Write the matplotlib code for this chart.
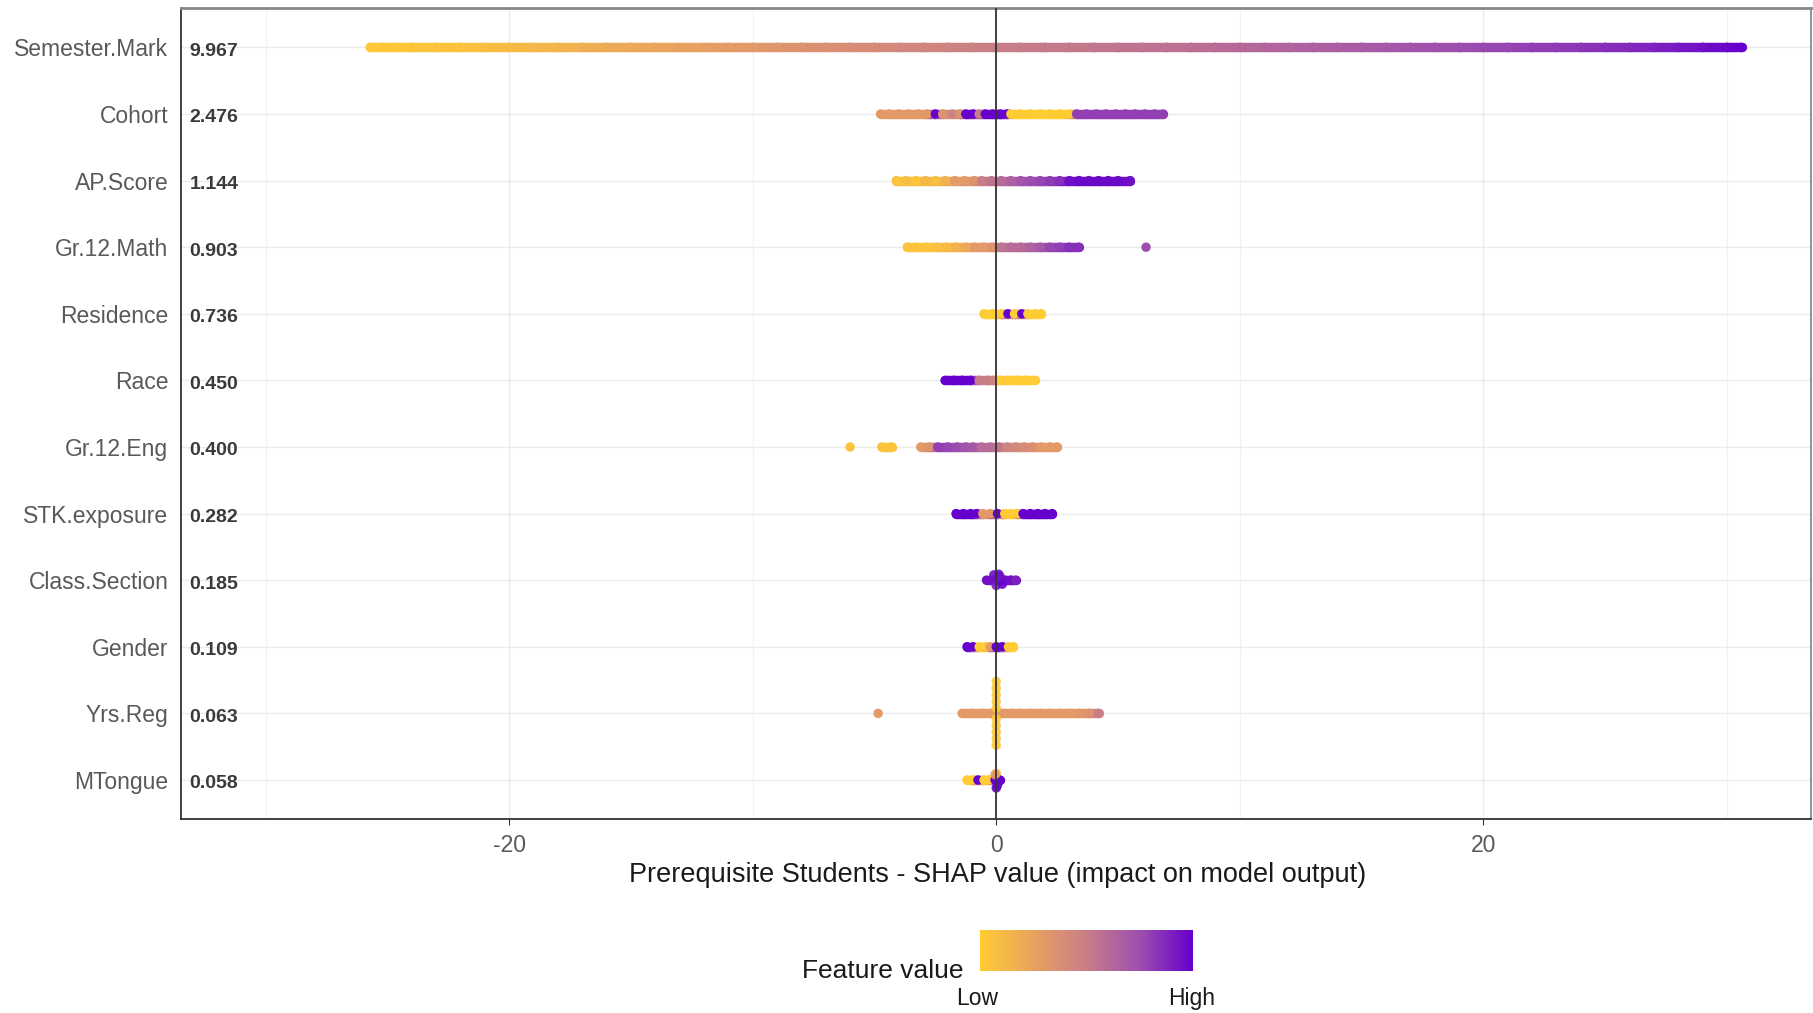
import numpy as np
import matplotlib
matplotlib.use("Agg")
import matplotlib.pyplot as plt
from matplotlib.colors import LinearSegmentedColormap
from matplotlib.collections import LineCollection
import matplotlib.cm as cm

plt.rcParams['font.family'] = ['Liberation Sans', 'DejaVu Sans']
plt.rcParams['axes.unicode_minus'] = False

features = ['Semester.Mark', 'Cohort', 'AP.Score', 'Gr.12.Math', 'Residence', 'Race',
            'Gr.12.Eng', 'STK.exposure', 'Class.Section', 'Gender', 'Yrs.Reg', 'MTongue']
mean_shap = ['9.967', '2.476', '1.144', '0.903', '0.736', '0.450',
             '0.400', '0.282', '0.185', '0.109', '0.063', '0.058']

# SHAP value / normalised feature value (0 = low, 1 = high)
sem_shap = [-25.7, -25.2, -24.7, -24, -23, -22, -21, -20, -19, -18, -17, -16, -15, -14, -13,
            -12, -11, -10, -9, -8, -7, -6, -5, -4, -3, -2, -1, 0, 1, 2, 3, 4, 5, 6, 7, 8,
            9, 10, 11, 12, 13, 14, 15, 16, 17, 18, 19, 20, 21, 22, 23, 24, 25, 26, 27, 28,
            29, 30, 30.6]
sem_val = [0.02, 0.03, 0.03, 0.04, 0.05, 0.06, 0.08, 0.10, 0.12, 0.14, 0.17, 0.19, 0.21, 0.23, 0.25,
           0.27, 0.29, 0.31, 0.33, 0.35, 0.37, 0.39, 0.41, 0.43, 0.45, 0.46, 0.48, 0.50, 0.51, 0.52,
           0.53, 0.54, 0.55, 0.56, 0.57, 0.58, 0.60, 0.61, 0.63, 0.64, 0.66, 0.67, 0.69, 0.70, 0.72,
           0.74, 0.75, 0.77, 0.78, 0.80, 0.81, 0.83, 0.85, 0.87, 0.89, 0.92, 0.95, 0.98, 1.0]

coh_shap = [-4.75, -4.4, -4.0, -3.6, -3.2, -2.85, -2.5, -2.2, -1.8, -1.5, -1.25, -0.95, -0.7,
            -0.45, -0.15, 0.15, 0.45, 0.6, 1.0, 1.4, 1.8, 2.2, 2.6, 3.0, 3.3, 3.7, 4.1, 4.5,
            4.9, 5.3, 5.7, 6.1, 6.5, 6.85]
coh_val = [0.3, 0.3, 0.3, 0.3, 0.3, 0.3, 1.0, 0.35, 0.45, 0.35, 1.0, 1.0, 0.5,
           1.0, 1.0, 1.0, 1.0, 0.0, 0.0, 0.0, 0.0, 0.0, 0.0, 0.0, 0.8, 0.8, 0.8, 0.8,
           0.8, 0.8, 0.8, 0.8, 0.8, 0.8]

ap_shap = [-4.1, -3.7, -3.3, -2.9, -2.5, -2.1, -1.7, -1.3, -0.9, -0.6, -0.2, 0.2, 0.6,
           1.0, 1.4, 1.8, 2.2, 2.6, 3.0, 3.4, 3.8, 4.2, 4.6, 5.0, 5.5]
ap_val = [0.05, 0.08, 0.05, 0.12, 0.08, 0.15, 0.3, 0.3, 0.35, 0.5, 0.55, 0.6, 0.65,
          0.72, 0.75, 0.78, 0.82, 0.85, 0.95, 0.97, 0.97, 0.97, 0.97, 0.97, 0.95]

math_shap = [-3.65, -3.25, -2.85, -2.45, -2.05, -1.65, -1.25, -0.9, -0.5, -0.15, 0.2, 0.6,
             1.0, 1.4, 1.8, 2.2, 2.6, 3.0, 3.4, 6.15]
math_val = [0.05, 0.05, 0.05, 0.08, 0.1, 0.15, 0.2, 0.3, 0.3, 0.35, 0.55, 0.6,
            0.6, 0.65, 0.7, 0.78, 0.8, 0.85, 0.85, 0.75]

res_shap = [-0.5, -0.15, 0.2, 0.48, 0.75, 1.05, 1.3, 1.6, 1.85]
res_val = [0.0, 0.0, 0.0, 1.0, 0.0, 1.0, 0.0, 0.0, 0.0]

race_shap = [-2.1, -1.75, -1.4, -1.05, -0.7, -0.35, -0.1, 0.15, 0.5, 0.85, 1.2, 1.6]
race_val = [1.0, 1.0, 1.0, 1.0, 0.5, 0.5, 0.45, 0.0, 0.0, 0.0, 0.0, 0.0]

eng_shap = [-6.0, -4.7, -4.3, -3.1, -2.75, -2.4, -2.0, -1.6, -1.25, -0.95, -0.6, -0.25,
            0.1, 0.45, 0.8, 1.15, 1.5, 1.85, 2.2, 2.5]
eng_val = [0.05, 0.05, 0.05, 0.3, 0.35, 0.8, 0.78, 0.75, 0.72, 0.7, 0.6, 0.6,
           0.55, 0.45, 0.42, 0.4, 0.38, 0.3, 0.3, 0.3]

stk_shap = [-1.65, -1.35, -1.05, -0.8, -0.55, -0.25, 0.05, 0.35, 0.6, 0.85, 1.1, 1.4,
            1.7, 2.0, 2.3]
stk_val = [1.0, 1.0, 1.0, 1.0, 0.3, 0.3, 1.0, 0.0, 0.0, 0.0, 1.0, 1.0,
           1.0, 1.0, 1.0]

cls_shap = [-0.4, -0.15, 0.1, 0.35, 0.6, 0.8]
cls_val = [0.95, 0.95, 0.95, 0.95, 0.95, 0.9]

gen_shap = [-1.2, -0.95, -0.7, -0.45, -0.25, 0.0, 0.25, 0.5, 0.7]
gen_val = [1.0, 1.0, 0.0, 0.0, 0.3, 1.0, 1.0, 0.0, 0.0]

yrs_shap = [-4.85, -1.4, -1.0, -0.6, -0.2, 0.2, 0.6, 1.0, 1.4, 1.8, 2.2, 2.6, 3.0, 3.4,
            3.8, 4.2]
yrs_val = [0.3, 0.3, 0.3, 0.3, 0.3, 0.3, 0.3, 0.3, 0.3, 0.3, 0.3, 0.3, 0.3, 0.32,
           0.35, 0.5]

mt_shap = [-1.2, -0.95, -0.75, -0.5, -0.3, -0.05, 0.15]
mt_val = [0.0, 0.0, 1.0, 0.0, 0.0, 1.0, 1.0]

shap_lists = [sem_shap, coh_shap, ap_shap, math_shap, res_shap, race_shap,
              eng_shap, stk_shap, cls_shap, gen_shap, yrs_shap, mt_shap]
val_lists = [sem_val, coh_val, ap_val, math_val, res_val, race_val,
             eng_val, stk_val, cls_val, gen_val, yrs_val, mt_val]

# points that sit off the row centre line (sina spread)
extra_row = [8, 8, 8, 8, 8, 10, 10, 10, 10, 10, 10, 10, 10, 10, 10, 11, 11, 11, 11]
extra_shap = [-0.1, 0.1, 0.0, 0.25, 0.15, 0, 0, 0, 0, 0, 0, 0, 0, 0, 0, 0.0, 0.05, 0.0, -0.05]
extra_dy = [0.08, 0.09, -0.08, -0.06, 0.06, -0.48, -0.38, -0.28, -0.18, -0.08,
            0.08, 0.18, 0.28, 0.38, 0.48, -0.12, -0.08, 0.1, 0.08]
extra_val = [0.95, 0.95, 0.9, 1.0, 0.95, 0.02, 0.02, 0.02, 0.02, 0.02,
             0.02, 0.02, 0.02, 0.02, 0.02, 1.0, 1.0, 0.1, 0.3]

cmap = LinearSegmentedColormap.from_list(
    'shap', ['#FFCC33', '#E9A15F', '#C97E87', '#9D4FAE', '#6600CC'])

fig = plt.figure(figsize=(18.13, 10.13), dpi=100)
ax = fig.add_axes([0.1001, 0.1919, 0.8988, 0.8001])

n = len(features)
dot_pt = 6.8
for i in range(n):
    y = n - i
    xs = np.array(shap_lists[i], dtype=float)
    vs = np.array(val_lists[i], dtype=float)
    segs = []
    cols = []
    for k in range(len(xs) - 1):
        if xs[k + 1] - xs[k] <= 1.05:
            segs.append([(xs[k], y), (xs[k + 1], y)])
            cols.append(cmap((vs[k] + vs[k + 1]) / 2))
    lc = LineCollection(segs, colors=cols, linewidths=dot_pt, capstyle='round', zorder=2)
    ax.add_collection(lc)
    ax.scatter(xs, np.full(len(xs), y), c=vs, cmap=cmap, vmin=0, vmax=1,
               s=dot_pt ** 2, linewidths=0, zorder=3)

ex_y = np.array([n - r for r in extra_row]) + np.array(extra_dy)
ax.scatter(extra_shap, ex_y, c=extra_val, cmap=cmap, vmin=0, vmax=1,
           s=dot_pt ** 2, linewidths=0, alpha=0.9, zorder=3)

ax.axvline(0, color='#333333', lw=1.3, zorder=4)

ax.set_xlim(-33.45, 33.45)
ax.set_ylim(0.42, n + 0.59)
ax.set_xticks([-20, 0, 20])
ax.set_xticks([-30, -10, 10, 30], minor=True)
ax.set_yticks(range(1, n + 1))
ax.set_yticklabels(features[::-1])
ax.grid(True, which='major', color='#EBEBEB', lw=1.0, zorder=0)
ax.grid(True, which='minor', axis='x', color='#F2F2F2', lw=0.8, zorder=0)
ax.set_axisbelow(True)

ax.tick_params(axis='y', length=0, pad=9.5, labelsize=16.5, labelcolor='#595959')
ax.tick_params(axis='x', which='major', length=4, color='#333333', pad=7,
               labelsize=16.5, labelcolor='#595959')
ax.tick_params(axis='x', which='minor', length=0)

for s in ax.spines.values():
    s.set_color('#333333')
    s.set_linewidth(1.3)
ax.spines['top'].set_color('#888888')
ax.spines['top'].set_linewidth(2)
ax.spines['right'].set_color('#888888')

for i, lab in enumerate(mean_shap):
    ax.text(0.005, n - i - 0.03, lab, transform=ax.get_yaxis_transform(), ha='left',
            va='center_baseline', fontsize=14, fontweight='bold', color='#3a3a3a', zorder=5)

fig.text(0.55, 0.136, 'Prerequisite Students - SHAP value (impact on model output)',
         ha='center', va='center', fontsize=19.5, color='#1a1a1a')

cax = fig.add_axes([0.5405, 0.0415, 0.1175, 0.0405])
cb = fig.colorbar(cm.ScalarMappable(cmap=cmap), cax=cax, orientation='horizontal')
cb.outline.set_visible(False)
cax.set_xticks([])
fig.text(0.5317, 0.0415, 'Feature value', ha='right', va='center', fontsize=19, color='#1a1a1a')
fig.text(0.5389, 0.0148, 'Low', ha='center', va='center', fontsize=16.5, color='#1a1a1a')
fig.text(0.657, 0.0148, 'High', ha='center', va='center', fontsize=16.5, color='#1a1a1a')

fig.savefig('out.png', dpi=100)
